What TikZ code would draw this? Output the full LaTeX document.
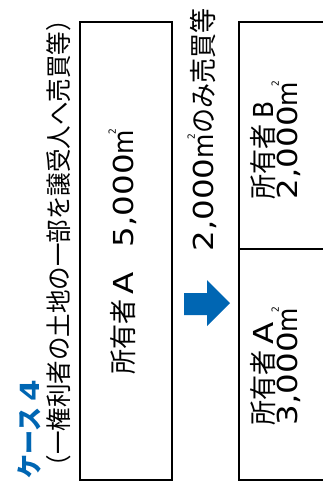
\documentclass[tikz,border=0pt]{standalone}
\usepackage{fontspec}
\usepackage{graphicx}
\setmainfont{Noto Sans CJK JP}
\newfontfamily\lat[FakeStretch=1.3]{DejaVu Sans}
\newfontfamily\latn{DejaVu Sans}
\newcommand\sqm{{\latn m}\kern-0.2em\smash{\raisebox{0.66em}{\fontsize{9}{9}\selectfont\latn 2}}}
\newcommand\tall[1]{\scalebox{1}[1.1]{#1}}
\definecolor{caseblue}{RGB}{0,102,179}
\begin{document}
\begin{tikzpicture}[x=1pt,y=-1pt,
  every node/.style={inner sep=0pt, outer sep=0pt},
  landbox/.style={draw=black, line width=1.5pt},
  vtext/.style={rotate=90, font=\fontsize{25}{26}\selectfont}]
\useasboundingbox (0,0) rectangle (323,483);
\fill[white] (0,0) rectangle (323,483);
\clip (0,0) rectangle (323,483);
% title
\node[rotate=90, anchor=west, text=caseblue, font=\fontsize{24}{25}\selectfont\bfseries] (title) at (29,478) {\tall{ケース {\lat 4}}};
\node[rotate=90, anchor=west, font=\fontsize{23.5}{24}\selectfont] (sub) at (59,478) {\tall{（一権利者の土地の一部を譲受人へ売買等）}};
% left box
\draw[landbox] (80,22) rectangle (172,480);
\node[vtext] (tA) at (124,252) {\tall{所有者 {\lat A}　{\lat 5,000}\sqm}};
% arrow
\fill[caseblue] (184,293) -- (207,293) -- (207,280) -- (230,303) -- (207,326) -- (207,315) -- (184,315) -- cycle;
\node[vtext] (sale) at (203,130) {\tall{{\lat 2,000}\sqm のみ売買等}};
% right box
\draw[landbox] (239,22) rectangle (340,480);
\draw[landbox] (239,249) -- (340,249);
\node[vtext] (tB) at (278,140) {\tall{\begin{tabular}{@{}l@{}}所有者 {\latn B}\\[-5pt]{\lat 2,000}\sqm\end{tabular}}};
\node[vtext] (tA2) at (278,366) {\tall{\begin{tabular}{@{}l@{}}所有者 {\lat A}\\[-5pt]{\lat 3,000}\sqm\end{tabular}}};
\end{tikzpicture}
\end{document}
